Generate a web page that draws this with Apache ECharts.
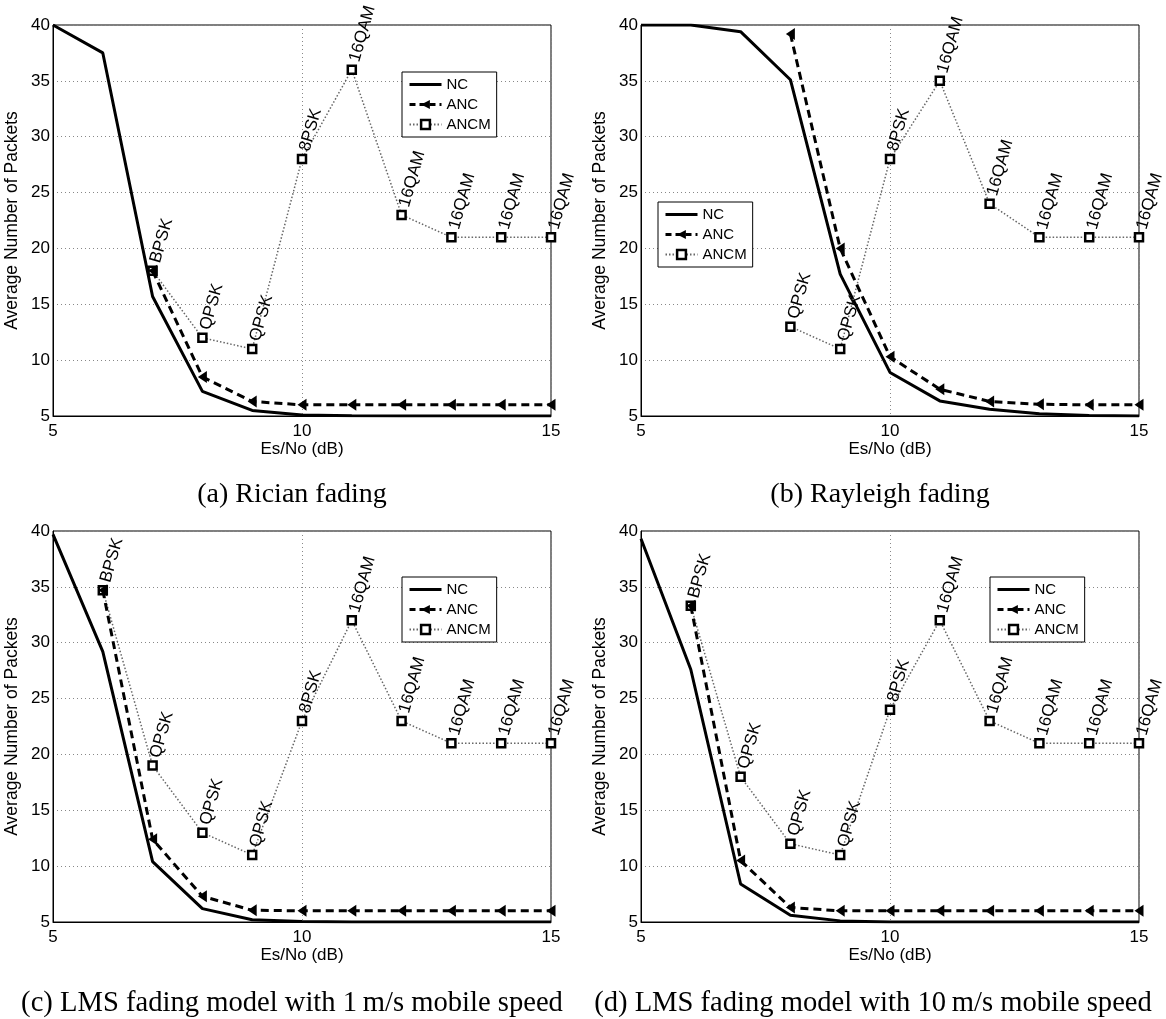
<!DOCTYPE html>
<html>
<head>
<meta charset="utf-8">
<script src="https://cdn.jsdelivr.net/npm/echarts@6/dist/echarts.min.js"></script>
<style>
  html, body { margin: 0; padding: 0; background: #fff; }
  #main { width: 1166px; height: 1019px; }
</style>
</head>
<body>
<div id="main"></div>
<script>
// Es/No (dB) values shared by every panel
const snr = [5, 6, 7, 8, 9, 10, 11, 12, 13, 14, 15];

// (a) Rician fading
const ricianNC = [40, 37.5, 15.7, 7.2, 5.5, 5.1, 5.02, 5, 5, 5, 5];
const ricianANC = [null, null, 18, 8.5, 6.3, 6, 6, 6, 6, 6, 6];
const ricianANCM = [null, null, 18, 12, 11, 28, 36, 23, 21, 21, 21];
const ricianMod = ['', '', 'BPSK', 'QPSK', 'QPSK', '8PSK', '16QAM', '16QAM', '16QAM', '16QAM', '16QAM'];

// (b) Rayleigh fading
const rayleighNC = [40, 40, 39.4, 35.1, 17.7, 8.9, 6.35, 5.6, 5.2, 5.05, 5];
const rayleighANC = [null, null, null, 39.2, 20, 10.3, 7.4, 6.3, 6.05, 6, 6];
const rayleighANCM = [null, null, null, 13, 11, 28, 35, 24, 21, 21, 21];
const rayleighMod = ['', '', '', 'QPSK', 'QPSK', '8PSK', '16QAM', '16QAM', '16QAM', '16QAM', '16QAM'];

// (c) LMS 1 m/s
const lms1NC = [39.7, 29.2, 10.4, 6.2, 5.2, 5.05, 5, 5, 5, 5, 5];
const lms1ANC = [null, 34.7, 12.4, 7.3, 6.05, 6, 6, 6, 6, 6, 6];
const lms1ANCM = [null, 34.7, 19, 13, 11, 23, 32, 23, 21, 21, 21];
const lms1Mod = ['', 'BPSK', 'QPSK', 'QPSK', 'QPSK', '8PSK', '16QAM', '16QAM', '16QAM', '16QAM', '16QAM'];

// (d) LMS 10 m/s
const lms10NC = [39.3, 27.6, 8.4, 5.6, 5.1, 5, 5, 5, 5, 5, 5];
const lms10ANC = [null, 33.3, 10.5, 6.3, 6, 6, 6, 6, 6, 6, 6];
const lms10ANCM = [null, 33.3, 18, 12, 11, 24, 32, 23, 21, 21, 21];
const lms10Mod = ['', 'BPSK', 'QPSK', 'QPSK', 'QPSK', '8PSK', '16QAM', '16QAM', '16QAM', '16QAM', '16QAM'];

const captions = [
  '(a) Rician fading',
  '(b) Rayleigh fading',
  '(c) LMS fading model with 1\u2009m/s mobile speed',
  '(d) LMS fading model with 10\u2009m/s mobile speed'
];

const panels = [
  { nc: ricianNC, anc: ricianANC, ancm: ricianANCM, mod: ricianMod },
  { nc: rayleighNC, anc: rayleighANC, ancm: rayleighANCM, mod: rayleighMod },
  { nc: lms1NC, anc: lms1ANC, ancm: lms1ANCM, mod: lms1Mod },
  { nc: lms10NC, anc: lms10ANC, ancm: lms10ANCM, mod: lms10Mod }
];

// layout of the four plot boxes
const boxes = [
  { left: 53, top: 25 },
  { left: 641, top: 25 },
  { left: 53, top: 531 },
  { left: 641, top: 531 }
];
const legendPos = [
  { left: 402, top: 72 },
  { left: 658, top: 202 },
  { left: 402, top: 577 },
  { left: 990, top: 577 }
];
const captionPos = [[292, 495], [880, 495], [292, 1003], [873, 1003]];
const captionSize = [28, 28, 28.6, 28.6];

const sans = 'Liberation Sans';

function pairs(ys) {
  const out = [];
  ys.forEach((y, i) => { if (y !== null) out.push([snr[i], y]); });
  return out;
}

function labelled(ys, mods) {
  const out = [];
  ys.forEach((y, i) => { if (y !== null) out.push({ value: [snr[i], y], mod: mods[i] }); });
  return out;
}

const grids = [], xAxes = [], yAxes = [], series = [], legends = [], graphics = [];

panels.forEach((p, k) => {
  grids.push({
    left: boxes[k].left, top: boxes[k].top, width: 498, height: 391,
    show: true, borderColor: '#000', borderWidth: 1,
    outerBoundsMode: 'none', containLabel: false
  });
  xAxes.push({
    gridIndex: k, type: 'value', min: 5, max: 15, interval: 5,
    name: 'Es/No (dB)', nameLocation: 'middle', nameGap: 24,
    nameTextStyle: { fontFamily: sans, fontSize: 17, color: '#000' },
    axisLine: { show: true, onZero: false, lineStyle: { color: '#000', width: 1 } },
    axisTick: { show: false },
    axisLabel: { fontFamily: sans, fontSize: 17, color: '#000', margin: 7 },
    splitLine: { show: true, lineStyle: { color: '#888', type: [1, 3], width: 1 } }
  });
  yAxes.push({
    gridIndex: k, type: 'value', min: 5, max: 40, interval: 5,
    name: 'Average Number of Packets', nameLocation: 'middle', nameGap: 32, nameRotate: 90,
    nameTextStyle: { fontFamily: sans, fontSize: 17.5, color: '#000' },
    axisLine: { show: true, lineStyle: { color: '#000', width: 1 } },
    axisTick: { show: false },
    axisLabel: { fontFamily: sans, fontSize: 17, color: '#000', margin: 3 },
    splitLine: { show: true, lineStyle: { color: '#888', type: [1, 3], width: 1 } }
  });

  series.push({
    name: 'NC', type: 'line', xAxisIndex: k, yAxisIndex: k,
    data: pairs(p.nc), symbol: 'none', z: 2,
    itemStyle: { color: '#000' },
    lineStyle: { color: '#000', width: 3 },
    animation: false
  });
  series.push({
    name: 'ANC', type: 'line', xAxisIndex: k, yAxisIndex: k,
    data: pairs(p.anc), symbol: 'triangle', symbolRotate: 90, symbolSize: [12, 9], z: 4,
    itemStyle: { color: '#000' },
    lineStyle: { color: '#000', width: 3, type: [8, 5] },
    animation: false
  });
  series.push({
    name: 'ANCM', type: 'line', xAxisIndex: k, yAxisIndex: k,
    data: labelled(p.ancm, p.mod), symbol: 'rect', symbolSize: 8, z: 3,
    itemStyle: { color: '#fff', borderColor: '#000', borderWidth: 2.5 },
    lineStyle: { color: '#666', width: 1.5, type: [1.5, 2] },
    label: {
      show: true, position: [8, -3], align: 'left', verticalAlign: 'middle',
      rotate: 74, fontFamily: sans, fontSize: 17, color: '#000',
      formatter: (prm) => prm.data.mod
    },
    animation: false
  });

  legends.push({
    data: [
      { name: 'NC', itemStyle: { opacity: 0 }, lineStyle: { width: 3 } },
      { name: 'ANC', lineStyle: { width: 3, type: [6, 4] } },
      { name: 'ANCM', itemStyle: { borderWidth: 2.5 } }
    ],
    orient: 'vertical',
    left: legendPos[k].left, top: legendPos[k].top,
    backgroundColor: '#fff', borderColor: '#000', borderWidth: 1, borderRadius: 0,
    padding: [5, 6, 5, 6], itemGap: 5, itemWidth: 32, itemHeight: 11,
    textStyle: { fontFamily: sans, fontSize: 15, color: '#000' },
    selectedMode: false
  });

  graphics.push({
    type: 'text', x: captionPos[k][0], y: captionPos[k][1],
    style: {
      text: captions[k], fill: '#000',
      fontFamily: 'Liberation Serif', fontSize: captionSize[k],
      align: 'center', verticalAlign: 'middle'
    }
  });
});

const chart = echarts.init(document.getElementById('main'));
chart.setOption({
  backgroundColor: '#fff',
  animation: false,
  grid: grids,
  xAxis: xAxes,
  yAxis: yAxes,
  legend: legends,
  series: series,
  graphic: graphics
});
window.addEventListener('resize', () => chart.resize());
</script>
</body>
</html>
